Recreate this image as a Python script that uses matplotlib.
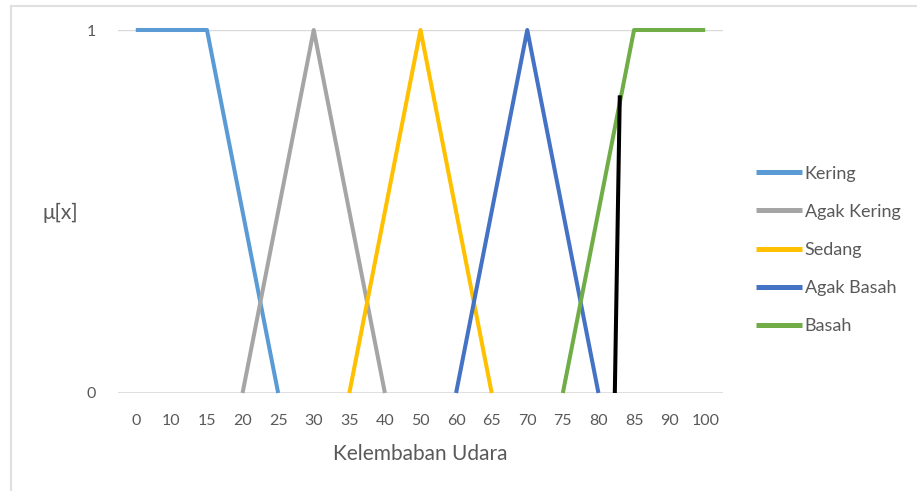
#!/usr/bin/env python3
"""Fuzzy membership chart for air humidity (Kelembaban Udara)."""

import matplotlib
matplotlib.use('Agg')
import matplotlib.pyplot as plt
from matplotlib.lines import Line2D
import numpy as np

# category axis labels (Excel-style, evenly spaced)
categories = [0, 10, 15, 20, 25, 30, 35, 40, 50, 60, 65, 70, 75, 80, 85, 90, 100]

nan = np.nan
kering = [1, 1, 1, 0.5, 0, nan, nan, nan, nan, nan, nan, nan, nan, nan, nan, nan, nan]
agak_kering = [nan, nan, nan, 0, 0.5, 1, 0.5, 0, nan, nan, nan, nan, nan, nan, nan, nan, nan]
sedang = [nan, nan, nan, nan, nan, nan, 0, 0.5, 1, 0.5, 0, nan, nan, nan, nan, nan, nan]
agak_basah = [nan, nan, nan, nan, nan, nan, nan, nan, nan, 0, 0.5, 1, 0.5, 0, nan, nan, nan]
basah = [nan, nan, nan, nan, nan, nan, nan, nan, nan, nan, nan, nan, 0, 0.5, 1, 1, 1]

# input value marker (black line)
marker_x = [82.3, 83.0]
marker_y = [0, 0.82]

series = [
    ('Kering', kering, '#5B9BD5'),
    ('Agak Kering', agak_kering, '#A5A5A5'),
    ('Sedang', sedang, '#FFC000'),
    ('Agak Basah', agak_basah, '#4472C4'),
    ('Basah', basah, '#70AD47'),
]

plt.rcParams['font.family'] = ['Lato', 'DejaVu Sans']
TEXT = '#595959'
GRID = '#D9D9D9'

fig = plt.figure(figsize=(9.17, 4.91), dpi=100)
ax = fig.add_axes([118 / 917, 98 / 491, 605 / 917, 363 / 491])

idx = np.arange(len(categories))
for name, vals, color in series:
    ax.plot(idx, vals, color=color, lw=2.9, label=name,
            solid_capstyle='butt', clip_on=False, zorder=3)

mx = np.interp(marker_x, categories, idx)
ax.plot(mx, marker_y, color='black', lw=2.9, solid_capstyle='butt',
        clip_on=False, zorder=4)

ax.set_xlim(-0.5, len(categories) - 0.5)
ax.set_ylim(0, 1)
ax.set_xticks(idx)
ax.set_xticklabels([str(c) for c in categories])
ax.set_yticks([0, 1])
ax.tick_params(length=0, labelsize=11.5, colors=TEXT)
ax.tick_params(axis='x', pad=15)
ax.tick_params(axis='y', pad=16)
for s in ax.spines.values():
    s.set_visible(False)
ax.axhline(1, color=GRID, lw=1, zorder=1)
ax.axhline(0, color=GRID, lw=1.2, zorder=1)

ax.set_xlabel('Kelembaban Udara', fontsize=15, color=TEXT, labelpad=12)
fig.text(60 / 917, 1 - 213 / 491, 'μ[x]', fontsize=15, color=TEXT,
         ha='center', va='center')

leg = fig.legend(loc='center left', bbox_to_anchor=(756 / 917, 1 - 250 / 491),
                 frameon=False, fontsize=13, handlelength=2.55,
                 handletextpad=0.15, labelspacing=1.23, borderpad=0,
                 borderaxespad=0, labelcolor=TEXT)
for line in leg.get_lines():
    line.set_linewidth(3.6)

# outer frame edges
fig.add_artist(Line2D([11 / 917, 1], [1 - 6 / 491, 1 - 6 / 491],
                      color='#E0E0E0', lw=1.5, transform=fig.transFigure))
fig.add_artist(Line2D([11 / 917, 11 / 917], [0, 1 - 6 / 491],
                      color='#E0E0E0', lw=1.5, transform=fig.transFigure))

fig.savefig('out.png', dpi=100)
plt.close(fig)
